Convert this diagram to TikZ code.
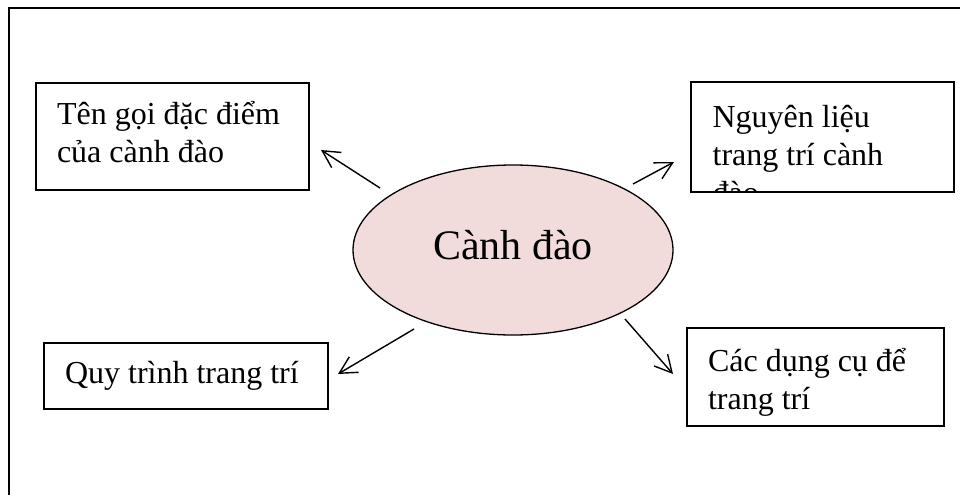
\documentclass[tikz,border=0pt]{standalone}
\usepackage{fontspec}
\setmainfont{Liberation Serif}
\usetikzlibrary{arrows.meta,positioning,shapes.geometric}
\definecolor{hongnhat}{HTML}{F2DCDB}

\begin{document}
\begin{tikzpicture}[x=1pt,y=-1pt,
		khung/.style={draw,line width=1.2pt,inner xsep=21pt,inner ysep=0pt,align=flush left,
			text height=21pt,font=\fontsize{32}{38}\selectfont},
		tam/.style={ellipse,draw,line width=1.3pt,fill=hongnhat,inner sep=0pt,
			text height=30pt,text depth=12pt,
			minimum width=320pt,minimum height=170pt,font=\fontsize{42}{50}\selectfont},
		mui/.style={-{Straight Barb[length=17pt,width=18pt,line width=1.4pt]},line width=1.4pt}]
		\useasboundingbox (0,0) rectangle (960,495);
		\draw[line width=1.1pt] (960,8)--(9,8)--(9,495);
		%%
		\node[tam] (canhdao) at (513,250) {Cành đào};
		\node[khung,text width=231pt,text depth=46pt,minimum height=107pt] (tengoi) at (172.5,136.5)
			{Tên gọi đặc điểm\\của cành đào};
		\node[khung,text width=221pt,minimum height=110pt,
			path picture={\node[anchor=north west,inner sep=0pt,align=flush left,
				font=\fontsize{32}{38}\selectfont]
				at ([shift={(21pt,-18pt)}]path picture bounding box.north west)
				{Nguyên liệu\\trang trí cành\\đào};}] (nguyenlieu) at (822.5,137) {};
		\node[khung,text width=242pt,text depth=7pt,minimum height=66pt] (quytrinh) at (186,376)
			{Quy trình trang trí};
		\node[khung,text width=215pt,text depth=33pt,minimum height=98pt] (dungcu) at (815.5,377)
			{Các dụng cụ để\\trang trí};
		%%
		\coordinate (a1) at (380,188); \coordinate (b1) at (321,150);
		\coordinate (a2) at (633,184); \coordinate (b2) at (674,162);
		\coordinate (a3) at (414,329); \coordinate (b3) at (338,374);
		\coordinate (a4) at (625,319); \coordinate (b4) at (673,374);
		\draw[mui] (a1)--(b1);
		\draw[mui] (a2)--(b2);
		\draw[mui] (a3)--(b3);
		\draw[mui] (a4)--(b4);
	\end{tikzpicture}
\end{document}
